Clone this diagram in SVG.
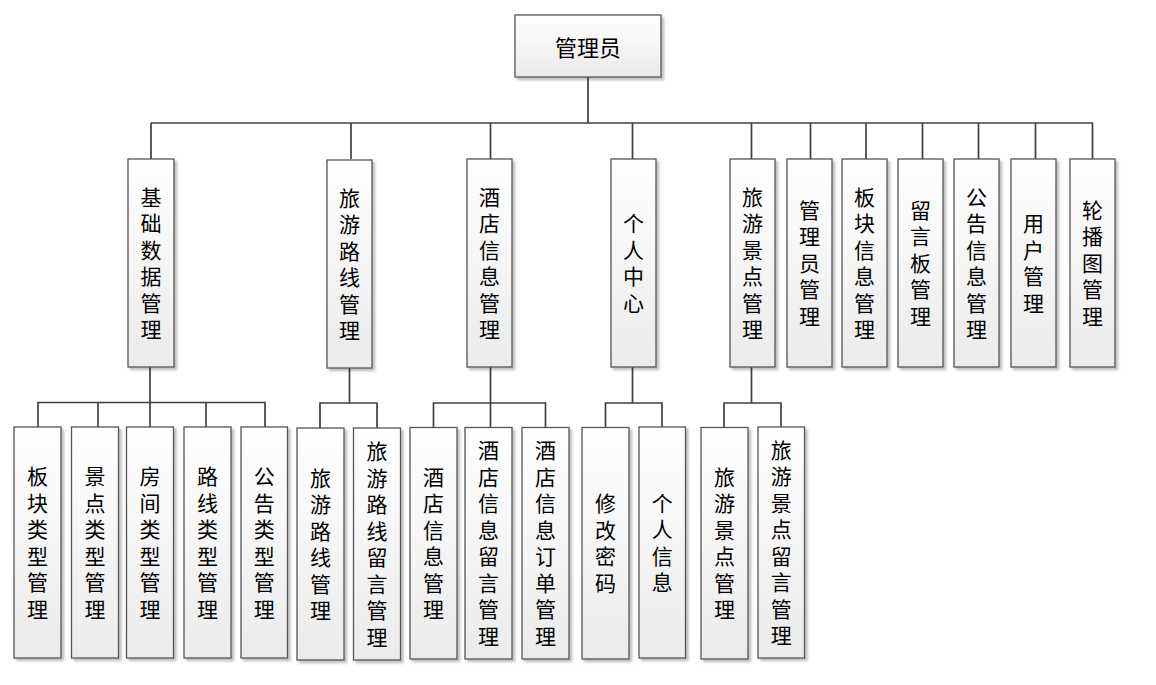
<svg xmlns="http://www.w3.org/2000/svg" width="1156" height="685" viewBox="0 0 1156 685">
<style>
.box{fill:url(#g);stroke:#555;stroke-width:1.3;filter:url(#sh)}
.t{font-family:"Noto Sans CJK SC","Noto Sans CJK JP",sans-serif;font-size:21px;fill:#000;text-anchor:middle;dominant-baseline:central}
.v{writing-mode:vertical-rl;text-orientation:upright;letter-spacing:5.5px}
.c{fill:none;stroke:#404040;stroke-width:1.7}
</style>
<defs>
<linearGradient id="g" x1="0" y1="0" x2="0" y2="1">
<stop offset="0" stop-color="#ffffff"/>
<stop offset="1" stop-color="#ebebeb"/>
</linearGradient>
<filter id="sh" x="-20%" y="-10%" width="150%" height="130%">
<feDropShadow dx="2.5" dy="2.5" stdDeviation="1" flood-color="#000" flood-opacity="0.25"/>
</filter>
</defs>
<rect width="1156" height="685" fill="#fff"/>
<g id="connectors" class="c">
<path d="M588 77V123M151 123H1093M151 123V159M351 123V159M490.5 123V159M632.5 123V159M751.5 123V159M810.5 123V159M866 123V159M922.5 123V159M978.5 123V159M1035.5 123V159M1092.5 123V159"/>
<path d="M150 367V402.5M38 427V402.5H265V427M98 402.5V427M150 402.5V427M206 402.5V427"/>
<path d="M349.5 368V403M320 428V403H377V428"/>
<path d="M490.5 367V403V427M433.5 427V403H545.5V427"/>
<path d="M632.5 367V403M605.5 427V403H662V427"/>
<path d="M751.5 367V403M724 427V403H781V427"/>
</g>
<g id="n-root"><rect class="box" x="515" y="15" width="146" height="62"/><text class="t" x="588" y="46" style="font-size:22px">管理员</text></g>
<g id="n-jichu"><rect class="box" x="128" y="159" width="46" height="208"/><text class="t v" x="151" y="265.75">基础数据管理</text></g>
<g id="n-luxian"><rect class="box" x="327" y="160" width="45" height="208"/><text class="t v" x="349.5" y="266.75">旅游路线管理</text></g>
<g id="n-jiudian"><rect class="box" x="467" y="159" width="45" height="208"/><text class="t v" x="489.5" y="265.75">酒店信息管理</text></g>
<g id="n-geren"><rect class="box" x="611" y="159" width="45" height="208"/><text class="t v" x="633.5" y="265.75">个人中心</text></g>
<g id="n-jingdian"><rect class="box" x="730" y="159" width="45" height="208"/><text class="t v" x="752.5" y="265.75">旅游景点管理</text></g>
<g id="n-admin"><rect class="box" x="787" y="159" width="45" height="208"/><text class="t v" x="809.5" y="265.75">管理员管理</text></g>
<g id="n-bankuai"><rect class="box" x="842" y="159" width="45" height="208"/><text class="t v" x="864.5" y="265.75">板块信息管理</text></g>
<g id="n-liuyan"><rect class="box" x="898" y="159" width="45" height="208"/><text class="t v" x="920.5" y="265.75">留言板管理</text></g>
<g id="n-gonggao"><rect class="box" x="954" y="159" width="45" height="208"/><text class="t v" x="976.5" y="265.75">公告信息管理</text></g>
<g id="n-yonghu"><rect class="box" x="1011" y="159" width="45" height="208"/><text class="t v" x="1033.5" y="265.75">用户管理</text></g>
<g id="n-lunbo"><rect class="box" x="1070" y="159" width="45" height="208"/><text class="t v" x="1092.5" y="265.75">轮播图管理</text></g>
<g id="b-bankuaileixing"><rect class="box" x="14" y="427" width="47" height="231"/><text class="t v" x="37.5" y="545.25">板块类型管理</text></g>
<g id="b-jingdianleixing"><rect class="box" x="71.5" y="427" width="47" height="231"/><text class="t v" x="95" y="545.25">景点类型管理</text></g>
<g id="b-fangjianleixing"><rect class="box" x="126.5" y="427" width="47" height="231"/><text class="t v" x="150" y="545.25">房间类型管理</text></g>
<g id="b-luxianleixing"><rect class="box" x="184" y="427" width="47" height="231"/><text class="t v" x="207.5" y="545.25">路线类型管理</text></g>
<g id="b-gonggaoleixing"><rect class="box" x="241" y="427" width="46.5" height="231"/><text class="t v" x="264.25" y="545.25">公告类型管理</text></g>
<g id="b-luxianguanli"><rect class="box" x="297" y="428" width="47" height="232"/><text class="t v" x="320.5" y="546.75">旅游路线管理</text></g>
<g id="b-luxianliuyan"><rect class="box" x="353.5" y="428" width="47" height="232"/><text class="t v" x="377" y="546.75">旅游路线留言管理</text></g>
<g id="b-jiudianxinxi"><rect class="box" x="410" y="427.5" width="47" height="231.5"/><text class="t v" x="433.5" y="546">酒店信息管理</text></g>
<g id="b-jiudianliuyan"><rect class="box" x="465" y="427.5" width="47" height="231.5"/><text class="t v" x="488.5" y="546">酒店信息留言管理</text></g>
<g id="b-jiudiandingdan"><rect class="box" x="522" y="427.5" width="47" height="231.5"/><text class="t v" x="545.5" y="546">酒店信息订单管理</text></g>
<g id="b-xiugaimima"><rect class="box" x="582" y="427.5" width="47" height="231.5"/><text class="t v" x="605.5" y="546">修改密码</text></g>
<g id="b-gerenxinxi"><rect class="box" x="639" y="427" width="46.5" height="231"/><text class="t v" x="662.25" y="545.25">个人信息</text></g>
<g id="b-jingdianguanli"><rect class="box" x="701" y="427.5" width="47" height="231.5"/><text class="t v" x="724.5" y="546">旅游景点管理</text></g>
<g id="b-jingdianliuyan"><rect class="box" x="758" y="427" width="46.5" height="231"/><text class="t v" x="781.25" y="545.25">旅游景点留言管理</text></g>
</svg>
